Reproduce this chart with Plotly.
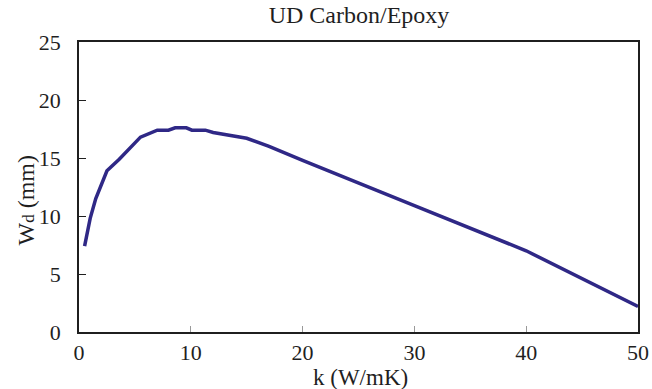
import plotly.graph_objects as go

k_values = [0.5, 1.0, 1.5, 2.5, 3.6, 4.4, 5.5, 7.0, 8.0, 8.6, 9.6, 10.1, 11.3, 12.0, 15.0, 17.0, 20.0, 30.0, 40.0, 50.0]
wd_values = [7.4, 9.8, 11.5, 13.9, 14.9, 15.7, 16.8, 17.4, 17.4, 17.6, 17.6, 17.4, 17.4, 17.2, 16.7, 16.0, 14.8, 10.9, 7.0, 2.2]

x_ticks = [0, 10, 20, 30, 40, 50]
y_ticks = [0, 5, 10, 15, 20, 25]

font_family = "Liberation Serif"
ink = "#1f1f1f"

W, H = 652, 389
L, T = 79, 42
PW, PH = 559, 290

fig = go.Figure()
fig.add_trace(go.Scatter(
    x=k_values, y=wd_values, mode="lines",
    line=dict(color="#2f2886", width=3.5),
    showlegend=False,
))

fig.update_layout(
    width=W, height=H,
    margin=dict(l=L, r=W - L - PW, t=T, b=H - T - PH, autoexpand=False),
    paper_bgcolor="white", plot_bgcolor="white",
    font=dict(family=font_family, size=22, color=ink),
    title=dict(text="UD Carbon/Epoxy", x=359 / W, xanchor="center",
               y=1 - 15 / H, yanchor="middle",
               font=dict(family=font_family, size=24, color=ink)),
    annotations=[
        dict(text="k (W/mK)", xref="paper", yref="paper",
             x=(360 - L) / PW, y=-(377 - (T + PH)) / PH,
             xanchor="center", yanchor="middle", showarrow=False,
             font=dict(family=font_family, size=23, color=ink)),
        dict(text="W<span style=\"font-size:17px\">d</span> (mm)", xref="paper", yref="paper",
             x=(25.5 - L) / PW, y=(T + PH - 201) / PH, textangle=-90,
             xanchor="center", yanchor="middle", showarrow=False,
             font=dict(family=font_family, size=24, color=ink)),
    ],
)
fig.update_xaxes(
    range=[0, 50], tickvals=x_ticks, ticktext=[str(v) for v in x_ticks],
    showline=True, linecolor=ink, linewidth=1.5, mirror=True,
    ticks="inside", ticklen=6, tickcolor="#999999", tickwidth=1,
    showgrid=False, zeroline=False, automargin=False,
    tickfont=dict(family=font_family, size=22, color=ink),
)
fig.update_yaxes(
    range=[0, 25], tickvals=y_ticks, ticktext=[str(v) for v in y_ticks],
    showline=True, linecolor=ink, linewidth=1.5, mirror=True,
    ticks="inside", ticklen=7, tickcolor=ink, tickwidth=1,
    ticklabelstandoff=12, automargin=False,
    showgrid=False, zeroline=False,
    tickfont=dict(family=font_family, size=22, color=ink),
)

fig.write_html("out.html", config={"displayModeBar": False},
               post_script="document.body.style.margin='0';")
